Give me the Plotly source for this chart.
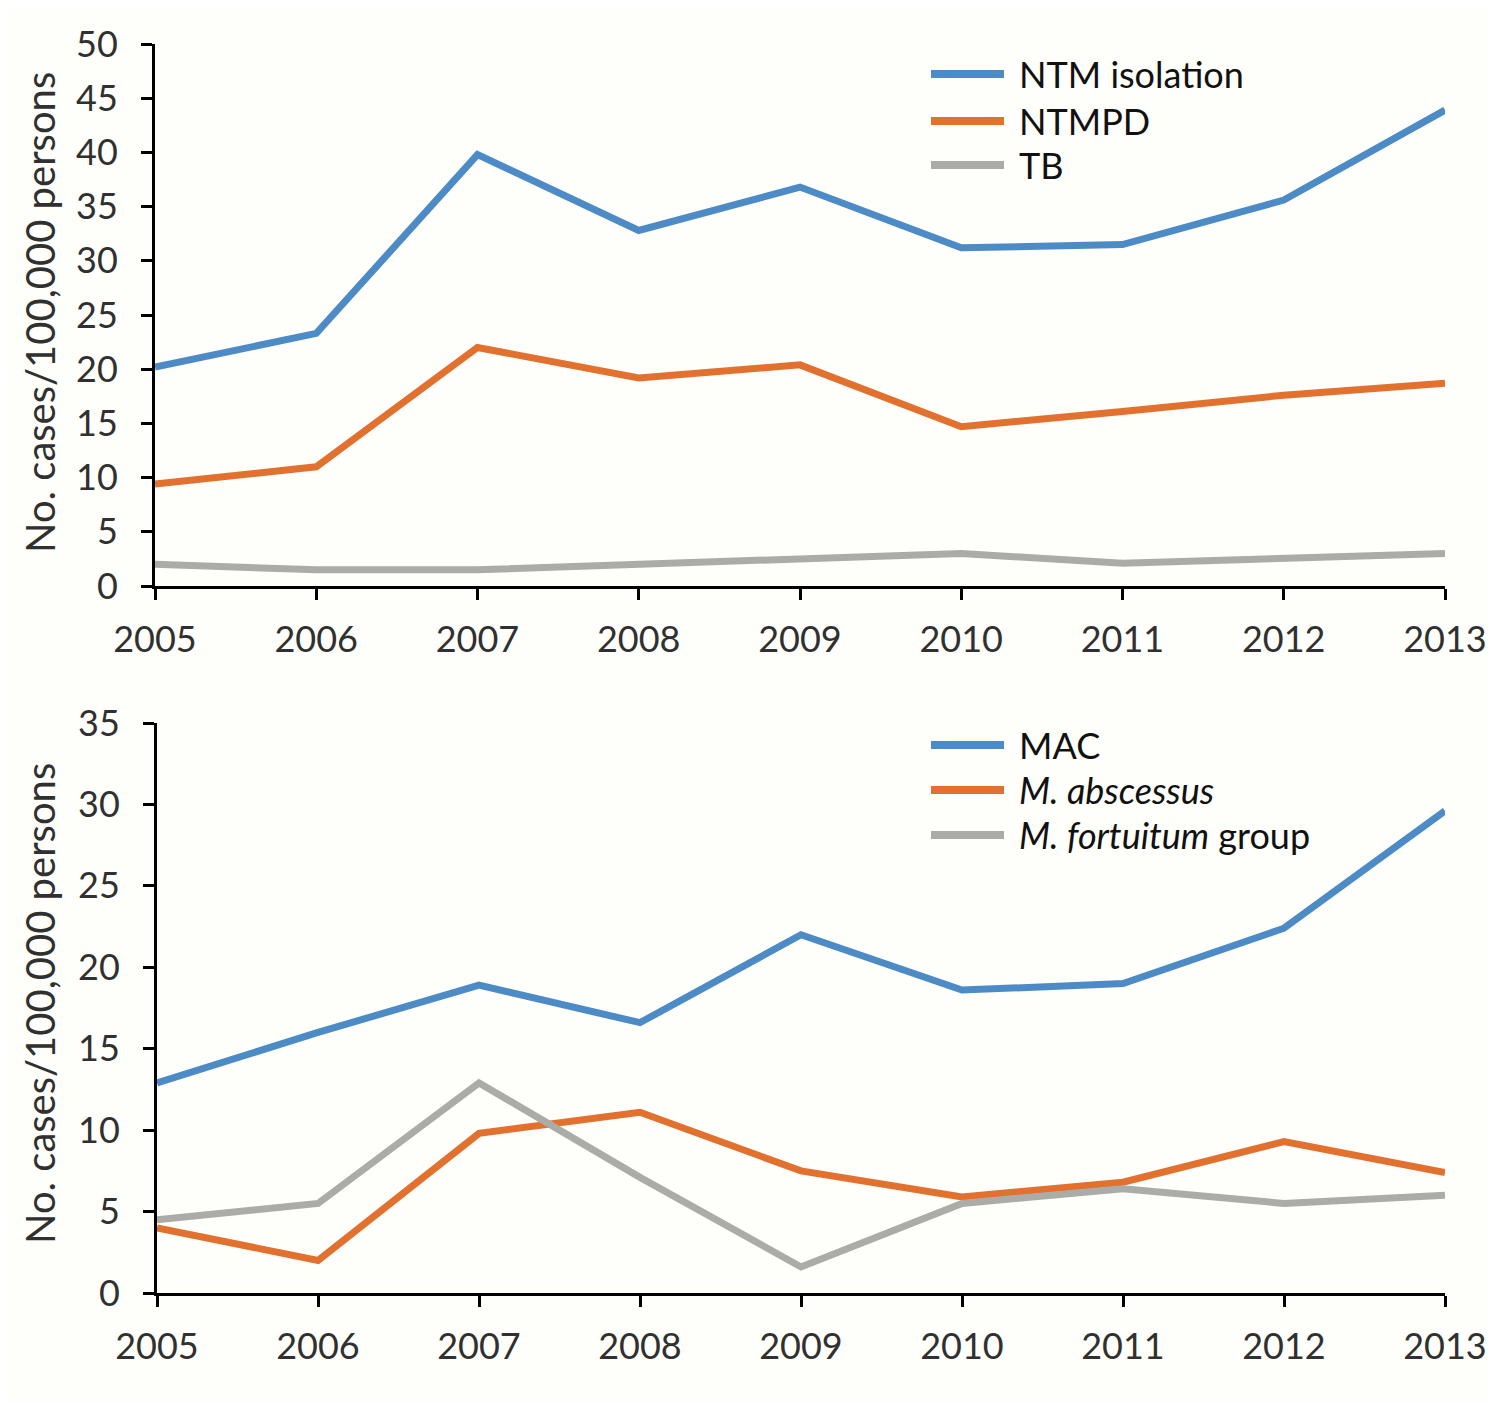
import plotly.graph_objects as go

# Page has an 8px body margin; work in reference pixel coordinates and shift.
OFF = 8
W, H = 1496 - OFF, 1402 - OFF

years = [2005, 2006, 2007, 2008, 2009, 2010, 2011, 2012, 2013]

# Top panel
ntm_isolation = [20.2, 23.3, 39.8, 32.8, 36.8, 31.2, 31.5, 35.6, 43.9]
ntmpd = [9.4, 11.0, 22.0, 19.2, 20.4, 14.7, 16.1, 17.6, 18.7]
tb = [2.0, 1.5, 1.5, 2.0, 2.5, 3.0, 2.1, 2.6, 3.0]

# Bottom panel
mac = [12.9, 16.0, 18.9, 16.6, 22.0, 18.6, 19.0, 22.4, 29.6]
m_abscessus = [4.0, 2.0, 9.8, 11.1, 7.5, 5.9, 6.8, 9.3, 7.4]
m_fortuitum = [4.5, 5.5, 12.9, 7.1, 1.6, 5.5, 6.4, 5.5, 6.0]

top_names = ["NTM isolation", "NTMPD", "TB"]
bottom_names = ["MAC", "<i>M. abscessus</i>", "<i>M. fortuitum</i> group"]
y_title = "No. cases/100,000 persons"

BLUE = "#4C8BC6"
ORANGE = "#E2712F"
GRAY = "#ABABA7"
colors = [BLUE, ORANGE, GRAY]

FONT = "Lato"
TICK_COLOR = "#303030"

fig = go.Figure()

for series, c, n in zip([ntm_isolation, ntmpd, tb], colors, top_names):
    fig.add_trace(go.Scatter(x=years, y=series, mode="lines", name=n,
                             line=dict(color=c, width=7), xaxis="x", yaxis="y",
                             showlegend=False))
for series, c, n in zip([mac, m_abscessus, m_fortuitum], colors, bottom_names):
    fig.add_trace(go.Scatter(x=years, y=series, mode="lines", name=n,
                             line=dict(color=c, width=7), xaxis="x2", yaxis="y2",
                             showlegend=False))


def px_x(v):
    return (v - OFF) / W


def px_y(v):
    return 1 - (v - OFF) / H


axis_common = dict(
    showline=True, linecolor="black", linewidth=3,
    ticks="outside", ticklen=11, tickwidth=3, tickcolor="black",
    showgrid=False, zeroline=False, automargin=False,
    tickfont=dict(family=FONT, size=36, color=TICK_COLOR),
)

fig.update_layout(
    width=W, height=H,
    margin=dict(l=0, r=0, t=0, b=0),
    paper_bgcolor="#FEFEFA",
    plot_bgcolor="#FEFEFA",
    xaxis=dict(domain=[px_x(155), px_x(1445)], range=[2005, 2013], anchor="y",
               tickvals=years, ticklabelstandoff=9, **axis_common),
    yaxis=dict(domain=[px_y(586), px_y(44)], range=[0, 50], anchor="x",
               dtick=5, tick0=0, ticklabelstandoff=16, **axis_common),
    xaxis2=dict(domain=[px_x(157), px_x(1445)], range=[2005, 2013], anchor="y2",
                tickvals=years, ticklabelstandoff=9, **axis_common),
    yaxis2=dict(domain=[px_y(1293), px_y(723)], range=[0, 35], anchor="x2",
                dtick=5, tick0=0, ticklabelstandoff=16, **axis_common),
    showlegend=False,
)

annotations = []
shapes = []

# Y-axis titles
for yc in [313, 1004]:
    annotations.append(dict(
        x=px_x(40), y=px_y(yc), xref="paper", yref="paper",
        text=y_title, textangle=-90, showarrow=False,
        font=dict(family=FONT, size=40, color=TICK_COLOR),
        xanchor="center", yanchor="middle"))

# Manual legends
legend_rows = [
    (top_names, [74, 121, 165]),
    (bottom_names, [745, 790, 835]),
]
for names, ys in legend_rows:
    for n, c, yy in zip(names, colors, ys):
        shapes.append(dict(type="line", xref="paper", yref="paper",
                           x0=px_x(931), x1=px_x(1004), y0=px_y(yy), y1=px_y(yy),
                           line=dict(color=c, width=8)))
        annotations.append(dict(
            x=px_x(1017), y=px_y(yy), xref="paper", yref="paper",
            text=n, showarrow=False, xanchor="left", yanchor="middle",
            font=dict(family=FONT, size=36, color="#111111")))

# faint top border line
shapes.append(dict(type="line", xref="paper", yref="paper",
                   x0=0, x1=1, y0=px_y(2), y1=px_y(2),
                   line=dict(color="#E4E4E4", width=2)))

fig.update_layout(annotations=annotations, shapes=shapes)

fig.write_html("out.html")
